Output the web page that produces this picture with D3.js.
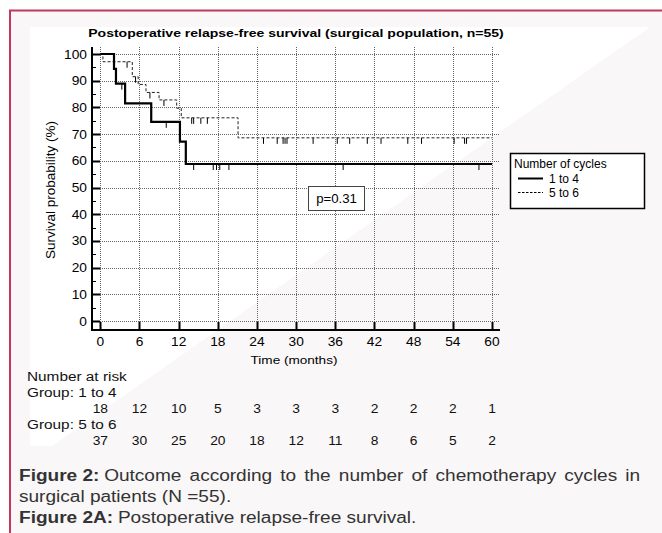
<!DOCTYPE html>
<html><head><meta charset="utf-8">
<script src="https://cdn.jsdelivr.net/npm/d3@7"></script>
<style>
html,body{margin:0;padding:0;background:#fff;}
#wrap{position:relative;width:662px;height:533px;overflow:hidden;}
svg{position:absolute;left:0;top:0;}
#cap{position:absolute;left:19px;top:465px;width:522px;transform:scaleX(1.19);transform-origin:0 0;font-family:"Liberation Sans",Arial,sans-serif;font-size:16px;line-height:21px;color:#333;}
#cap .ln{display:flex;white-space:nowrap;height:21px;}
#cap .b{font-weight:bold;margin-right:4px;}
#cap .j{flex:1;text-align:justify;text-align-last:justify;}
</style></head>
<body><div id="wrap"><svg id="chart" width="662" height="533"></svg>
<div id="cap">
<div class="ln"><span class="b">Figure 2:</span><span class="j">Outcome according to the number of chemotherapy cycles in</span></div>
<div class="ln"><span>surgical patients (N =55).</span></div>
<div class="ln"><span class="b">Figure 2A:</span><span>Postoperative relapse-free survival.</span></div>
</div></div>
<script>
// ---- data ----
const timeTicks = [0,6,12,18,24,30,36,42,48,54,60];
const yTicks = [0,10,20,30,40,50,60,70,80,90,100];
const yMinorTicks = [5,15,25,35,45,55,65,75,85,95];
// Kaplan-Meier steps [time, survival %]
const g1Times = [0,2.1,2.4,3.8,7.8,12.2,13.1];
const g1Surv  = [100,94.4,88.9,81.5,74.6,67.2,58.8];
const g1Censor = [3.3,10.1,14.3,17.3,17.8,18.3,19.7,37.2,58.0];
const g2Times = [0,0.4,4.9,5.8,7.0,9.0,11.7,12.4,21.1];
const g2Surv  = [100,97.1,91.5,88.6,85.6,82.8,79.7,76.1,68.6];
const g2Censor = [4.1,5.4,7.6,9.75,14.0,14.3,15.4,16.4,25.0,27.1,28.0,28.3,28.6,32.6,36.3,38.2,40.9,43.0,47.1,49.2,54.2,55.8,56.1];
const endTime = 60;
const risk1 = [18,12,10,5,3,3,3,2,2,2,1];
const risk2 = [37,30,25,20,18,12,11,8,6,5,2];
const groupNames = ["1 to 4","5 to 6"];

const svg = d3.select("#chart");
const font = "'Liberation Sans', Arial, sans-serif";
function txt(g, xx, yy, s, o={}){
  return g.append("text").attr("transform",`translate(${xx},${yy}) scale(${o.sx||1},1)`)
    .attr("text-anchor",o.anchor||"start").attr("font-family",font).attr("font-size",o.size||12)
    .attr("font-weight",o.weight||"normal").attr("fill",o.fill||"#000").text(s);
}

// background
svg.append("rect").attr("x",9).attr("y",10).attr("width",653).attr("height",523).attr("fill","#f9f7f8");
svg.append("polygon").attr("points","30,27 650,27 52,446 30,446").attr("fill","#ffffff");
svg.append("line").attr("x1",9).attr("x2",662).attr("y1",10.5).attr("y2",10.5).attr("stroke","#c2385c").attr("stroke-width",2);
svg.append("line").attr("x1",10).attr("x2",10).attr("y1",10).attr("y2",533).attr("stroke","#c2385c").attr("stroke-width",2);

const x = d3.scaleLinear().domain([0,60]).range([100.3,492]);
const y = d3.scaleLinear().domain([0,100]).range([321,54]);
const axisX = 92, axisY = 330, topY = 47, rightX = 499;

// grid
const grid = svg.append("g").attr("stroke","#666").attr("stroke-width",1).attr("stroke-dasharray","1,1");
yTicks.forEach(v=>grid.append("line").attr("x1",axisX).attr("x2",rightX).attr("y1",Math.round(y(v))+0.5).attr("y2",Math.round(y(v))+0.5));
timeTicks.forEach(v=>grid.append("line").attr("x1",Math.round(x(v))+0.5).attr("x2",Math.round(x(v))+0.5).attr("y1",topY).attr("y2",axisY));

// axes
const ax = svg.append("g");
ax.append("line").attr("x1",axisX).attr("x2",axisX).attr("y1",topY).attr("y2",axisY+1).attr("stroke","#000").attr("stroke-width",2);
ax.append("line").attr("x1",axisX-1).attr("x2",rightX+1).attr("y1",axisY).attr("y2",axisY).attr("stroke","#000").attr("stroke-width",2);
yTicks.forEach(v=>ax.append("line").attr("x1",axisX).attr("x2",axisX+8).attr("y1",Math.round(y(v))+0.5).attr("y2",Math.round(y(v))+0.5).attr("stroke","#000").attr("stroke-width",2));
yMinorTicks.forEach(v=>ax.append("line").attr("x1",axisX).attr("x2",axisX+4).attr("y1",Math.round(y(v))+0.5).attr("y2",Math.round(y(v))+0.5).attr("stroke","#000").attr("stroke-width",1));
timeTicks.forEach(v=>ax.append("line").attr("x1",Math.round(x(v))+0.5).attr("x2",Math.round(x(v))+0.5).attr("y1",axisY).attr("y2",axisY-8).attr("stroke","#000").attr("stroke-width",2));
yTicks.forEach(v=>txt(ax,87,y(v)+4.5,v,{anchor:"end",size:12.5,sx:1.1}));
timeTicks.forEach(v=>txt(ax,x(v),346,v,{anchor:"middle",size:12.5,sx:1.1}));

// titles
txt(svg,296,37,"Postoperative relapse-free survival (surgical population, n=55)",{anchor:"middle",size:11.5,weight:"bold",sx:1.22});
txt(svg,294,364,"Time (months)",{anchor:"middle",size:11.5,sx:1.18});
svg.append("text").attr("transform","translate(55,190) rotate(-90)").attr("text-anchor","middle").attr("font-family",font).attr("font-size",13.5).text("Survival probability (%)");

// curves
function stepPts(times,surv){
  const pts=[];
  times.forEach((t,i)=>{ if(i>0) pts.push([t,surv[i-1]]); pts.push([t,surv[i]]); });
  pts.push([endTime,surv[surv.length-1]]);
  return pts;
}
function survAt(times,surv,t){ let s=surv[0]; times.forEach((tt,i)=>{ if(tt<=t) s=surv[i]; }); return s; }
const line = d3.line().x(d=>x(d[0])).y(d=>y(d[1]));
svg.append("path").attr("d",line(stepPts(g2Times,g2Surv))).attr("fill","none").attr("stroke","#222").attr("stroke-width",1).attr("stroke-dasharray","3,2");
svg.append("path").attr("d",line(stepPts(g1Times,g1Surv))).attr("fill","none").attr("stroke","#000").attr("stroke-width",2.2);
g1Censor.forEach(t=>{const yy=y(survAt(g1Times,g1Surv,t)); svg.append("line").attr("x1",x(t)).attr("x2",x(t)).attr("y1",yy).attr("y2",yy+6).attr("stroke","#000").attr("stroke-width",1);});
g2Censor.forEach(t=>{const yy=y(survAt(g2Times,g2Surv,t)); svg.append("line").attr("x1",x(t)).attr("x2",x(t)).attr("y1",yy).attr("y2",yy+6).attr("stroke","#000").attr("stroke-width",1);});

// p-value box
svg.append("rect").attr("x",308.5).attr("y",186.5).attr("width",56).attr("height",24).attr("fill","#fff").attr("stroke","#444").attr("stroke-width",1);
txt(svg,336.5,203,"p=0.31",{anchor:"middle",size:12,sx:1.1});

// legend
const lg = svg.append("g");
lg.append("rect").attr("x",510.5).attr("y",153.5).attr("width",134).attr("height",55).attr("fill","#fff").attr("stroke","#000").attr("stroke-width",1.5);
txt(lg,514,168,"Number of cycles",{size:12});
lg.append("line").attr("x1",518).attr("x2",543).attr("y1",178.5).attr("y2",178.5).attr("stroke","#000").attr("stroke-width",2);
txt(lg,549,183,groupNames[0],{size:12});
lg.append("line").attr("x1",518).attr("x2",543).attr("y1",192.5).attr("y2",192.5).attr("stroke","#000").attr("stroke-width",1).attr("stroke-dasharray","2.5,1.5");
txt(lg,549,197,groupNames[1],{size:12});

// risk table
const rt = svg.append("g");
const rs = {size:12, sx:1.28, fill:"#111"};
txt(rt,27,381,"Number at risk",rs);
txt(rt,27,397,"Group: " + groupNames[0],rs);
txt(rt,27,429,"Group: " + groupNames[1],rs);
timeTicks.forEach((t,i)=>{
  txt(rt,x(t),413,risk1[i],{...rs,anchor:"middle",sx:1.15});
  txt(rt,x(t),445,risk2[i],{...rs,anchor:"middle",sx:1.15});
});
</script></body></html>
